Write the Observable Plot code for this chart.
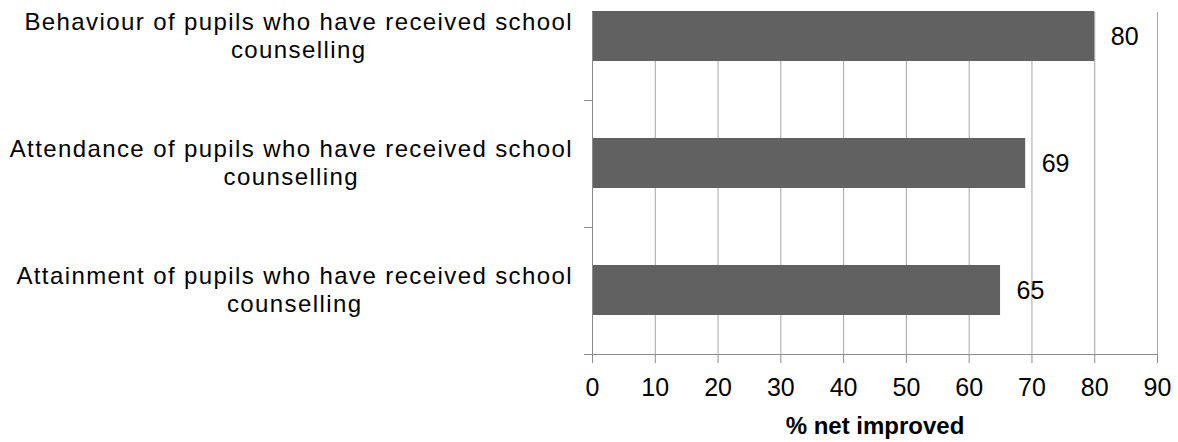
<!DOCTYPE html>
<html><head><meta charset="utf-8">
<script src="https://cdn.jsdelivr.net/npm/d3@7"></script>
<script src="https://cdn.jsdelivr.net/npm/@observablehq/plot@0.6"></script>
<style>
body{margin:0;background:#fff;}
svg{font-family:"Liberation Sans",Arial,sans-serif;}
</style>
</head><body><div id="chart"></div>
<script>
const categories = [
  "Behaviour of pupils who have received school counselling",
  "Attendance of pupils who have received school counselling",
  "Attainment of pupils who have received school counselling"
];
const labelLines = [
  ["Behaviour of pupils who have received school", "counselling"],
  ["Attendance of pupils who have received school", "counselling"],
  ["Attainment of pupils who have received school", "counselling"]
];
const values = [80, 69, 65];
const xTicks = [0, 10, 20, 30, 40, 50, 60, 70, 80, 90];
const xLabel = "% net improved";

const data = categories.map((c, i) => ({category: c, value: values[i]}));

const axisColor = "#8c8c8c";
const gridColor = "#a6a6a6";
const catFontSize = 24;
const catSpacing = 1.4;
const catFont = catFontSize + "px 'Liberation Sans', Arial, sans-serif";
const lineH = 28;

const measureCtx = document.createElement("canvas").getContext("2d");
measureCtx.font = catFont;
const measure = s => measureCtx.measureText(s).width + catSpacing * s.length;

const decor = Plot.ruleY(categories, {
  y: d => d,
  render: (index, scales, values, dims) => {
    const y = scales.y;
    const bw = y.bandwidth ? y.bandwidth() : 0;
    const step = y.step ? y.step() : (y(categories[1]) - y(categories[0]));
    const gap = (step - bw) / 2;
    const x0 = dims.marginLeft;
    const g = d3.create("svg:g");
    categories.forEach((c, i) => {
      const yb = Math.round(y(c) + bw + gap) + 0.5;
      g.append("line")
        .attr("x1", x0 - 8).attr("x2", x0)
        .attr("y1", yb).attr("y2", yb)
        .attr("stroke", axisColor);
    });
    categories.forEach((c, i) => {
      const lines = labelLines[i];
      const cy = y(c) + bw / 2;
      const maxW = d3.max(lines, measure);
      const cx = x0 - 19 - maxW / 2;
      const t = g.append("text")
        .attr("text-anchor", "middle")
        .attr("font-size", catFontSize)
        .attr("letter-spacing", catSpacing)
        .attr("fill", "#000");
      lines.forEach((ln, j) => {
        t.append("tspan")
          .attr("x", cx)
          .attr("y", cy + (j - (lines.length - 1) / 2) * lineH)
          .attr("dy", "0.35em")
          .text(ln);
      });
    });
    return g.node();
  }
});

const chart = Plot.plot({
  width: 1178,
  height: 442,
  marginTop: 12,
  marginBottom: 88,
  marginLeft: 592,
  marginRight: 21,
  style: {fontSize: "25px", color: "#000", background: "#fff"},
  x: {domain: [0, 90], ticks: xTicks},
  y: {domain: categories, range: [-27, 354], paddingInner: 0.606, paddingOuter: 0.303, axis: null},
  marks: [
    Plot.gridX(xTicks, {stroke: gridColor, strokeOpacity: 1}),
    Plot.barX(data, {x: "value", y: "category", fill: "#616161"}),
    Plot.frame({anchor: "left", stroke: axisColor}),
    Plot.frame({anchor: "bottom", stroke: axisColor}),
    Plot.axisX(xTicks, {tickSize: 9, tickPadding: 15, stroke: axisColor, fill: "#000", label: null, fontSize: 25}),
    Plot.text(data, {x: "value", y: "category", text: d => String(d.value), dx: 16, textAnchor: "start", fontSize: 25, fill: "#000"}),
    Plot.text([xLabel], {frameAnchor: "bottom", text: d => d, dy: 79, fontWeight: "bold", fontSize: 24, fill: "#000"}),
    decor
  ]
});
document.getElementById("chart").appendChild(chart);
</script>
</body></html>
